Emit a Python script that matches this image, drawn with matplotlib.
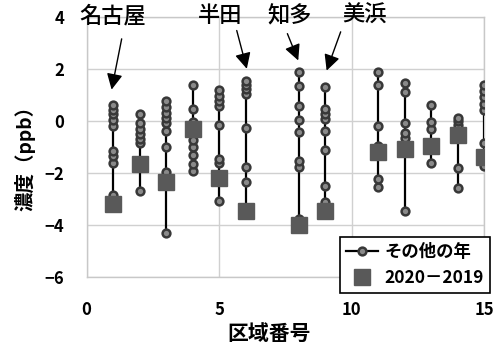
import matplotlib
matplotlib.use('Agg')
import matplotlib.pyplot as plt

plt.rcParams['font.family'] = ['Noto Sans CJK JP', 'DejaVu Sans']

# 区域ごとの濃度差 (ppb)
regions = [1, 2, 3, 4, 5, 6, 8, 9, 11, 12, 13, 14, 15]
other_years = [
    [0.62, 0.43, 0.25, 0.05, -0.18, -1.15, -1.35, -1.6, -2.85],
    [0.25, -0.1, -0.3, -0.5, -0.7, -0.85, -2.7],
    [0.75, 0.55, 0.32, 0.1, -0.1, -0.4, -1.0, -1.95, -4.3],
    [1.38, 0.45, -0.05, -0.75, -1.0, -1.3, -1.67, -1.93],
    [1.2, 0.97, 0.77, 0.57, -0.17, -1.45, -1.6, -3.09],
    [1.55, 1.38, 1.22, 1.03, -0.27, -1.78, -2.35, -3.4],
    [1.88, 1.33, 0.56, 0.05, -0.43, -1.54, -1.76, -3.78],
    [1.3, 0.45, 0.26, 0.07, -0.4, -1.12, -2.51, -3.13],
    [1.89, 1.38, -0.19, -0.95, -2.25, -2.56],
    [1.47, 1.1, -0.07, -0.47, -0.67, -3.47],
    [0.59, -0.04, -0.3, -1.61],
    [0.12, 0.0, -0.15, -0.3, -1.83, -2.58],
    [1.39, 1.16, 0.9, 0.64, 0.42, -0.85, -1.74],
]
diff_2020 = [-3.2, -1.66, -2.33, -0.3, -2.19, -3.45, -4.0, -3.46, -1.2, -1.1, -0.97, -0.53, -1.37]

# 注記: (ラベル, 文字位置, 矢印の始点, 矢印の先端)
notes = [
    ('名古屋', (0.97, 4.04), (1.32, 3.15), (0.94, 1.2)),
    ('半田', (5.04, 4.04), (5.66, 3.47), (6.04, 2.0)),
    ('知多', (7.64, 4.04), (7.57, 3.35), (7.98, 2.32)),
    ('美浜', (10.47, 4.04), (9.58, 3.42), (9.05, 1.93)),
]

fig = plt.figure(figsize=(4.99, 3.45), dpi=100)
ax = fig.add_axes([0.1737, 0.197, 0.797, 0.7545])

for i, (r, vals) in enumerate(zip(regions, other_years)):
    ax.plot([r] * len(vals), sorted(vals), '-o', color='black', lw=1.6,
            marker='o', ms=5.6, mfc='#8a8a8a', mec='#383838', mew=1.8,
            zorder=3, label='その他の年' if i == 0 else None)
ax.plot(regions, diff_2020, 's', ls='none', color='#595959', ms=11,
        zorder=4, label='2020－2019')

for text, xy_text, start, tip in notes:
    ax.text(xy_text[0], xy_text[1], text, ha='center', va='center',
            fontsize=16, fontweight='medium', clip_on=False)
    ax.annotate('', xy=tip, xytext=start, annotation_clip=False,
                arrowprops=dict(arrowstyle='-|>', color='black', lw=1.0,
                                mutation_scale=24, shrinkA=0, shrinkB=0))

ax.set_xlim(0, 15)
ax.set_ylim(-6, 4)
ax.set_xticks([0, 5, 10, 15])
ax.set_yticks([-6, -4, -2, 0, 2, 4])
ax.grid(True, color='#d0d0d0', lw=1.0)
ax.set_axisbelow(True)
for s in ax.spines.values():
    s.set_color('#c8c8c8')
    s.set_linewidth(1.0)
ax.tick_params(length=0, labelsize=12)
ax.tick_params(axis='y', pad=16)
ax.tick_params(axis='x', pad=17)
for lab in ax.get_xticklabels() + ax.get_yticklabels():
    lab.set_fontweight('bold')

fig.text(0.539, 1 - 333 / 345, '区域番号', ha='center', va='center',
         fontsize=15, fontweight='bold')
fig.text(25 / 499, 1 - 153 / 345, '濃度（ppb）', ha='center', va='center',
         rotation=90, fontsize=14, fontweight='bold')

leg = ax.legend(loc='upper left', bbox_to_anchor=(331.7 / 499, 1 - 228.3 / 345),
                bbox_transform=fig.transFigure, fancybox=False, framealpha=1,
                edgecolor='black', prop={'weight': 'bold', 'size': 12.5},
                handlelength=1.8, borderpad=0.35, labelspacing=0.45,
                handletextpad=0.4)
leg.get_frame().set_linewidth(1.2)
leg.set_zorder(10)

fig.savefig('out.png', dpi=100)
